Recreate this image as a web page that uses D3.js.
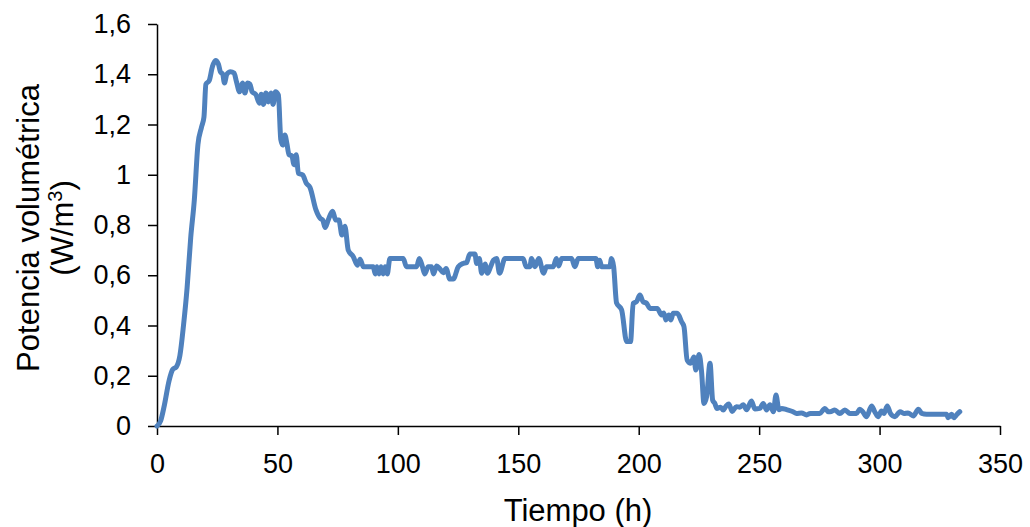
<!DOCTYPE html>
<html>
<head>
<meta charset="utf-8">
<script src="https://cdn.jsdelivr.net/npm/d3@7"></script>
<style>
  html, body { margin: 0; padding: 0; background: #fff; }
  svg { display: block; }
  text { font-family: "Liberation Sans", Arial, sans-serif; fill: #000; }
</style>
</head>
<body>
<svg id="chart" width="1030" height="527"></svg>
<script>
// Tiempo (h)
const tiempo = [
  0, 1.5, 3, 5, 6.5, 8, 9.5, 11, 12.5, 14, 15.5, 17, 18.5, 19.5, 20.3, 21.7, 23, 24.3, 25.5, 26.3,
  27.3, 28, 29, 30.5, 32, 33, 34.3, 35.5, 36.5, 37.6, 38.6, 39.5, 41, 42.5, 43.3, 44.2, 45.2, 46.2, 47.3, 48.2,
  49.2, 50.4, 51.4, 52.2, 53.1, 54, 54.8, 56, 56.9, 57.8, 58.7, 60.5, 62, 63.5, 66, 67.7, 68.8, 69.8, 71.1, 72.9,
  74.2, 75.5, 76.8, 78, 79.4, 81.5, 83.2, 84.3, 85.7, 89.8, 90.6, 91.3, 92.2, 93, 93.9, 94.7, 95.6, 96.7, 102.2, 103.6,
  107.8, 108.9, 110.2, 111.2, 112.6, 114, 114.8, 116.1, 117.5, 118.9, 120, 121.6, 123, 125.1, 127.1, 128.5, 129.9, 132, 132.7, 133.8,
  134.8, 136.2, 137.2, 138.5, 139.7, 141, 142.2, 144.5, 152, 153.3, 154.8, 155.5, 156.9, 158.5, 160.5, 161.7, 164.5, 165.8, 166.8, 168,
  172.1, 173.5, 174.9, 182.2, 183, 183.8, 184.6, 188, 188.7, 189.6, 190.8, 192.9, 195, 196.6, 197.7, 199.1, 200.5, 201.8, 203.3, 204.7,
  207.7, 209.5, 210.4, 211.3, 212.5, 213.4, 214.3, 216, 217.8, 218.8, 220.1, 221.6, 222.9, 223.7, 225.1, 226.1, 227.1, 228.2, 229.6, 230.7,
  231.6, 232.5, 234, 235.1, 236.3, 237.4, 238.8, 240.5, 242, 243.4, 244.8, 246.8, 248.2, 250.3, 251.7, 253.1, 254.5, 255.9, 257, 258.2,
  259.4, 261.4, 264.1, 265.5, 267.6, 269.7, 271.2, 275.2, 277.3, 278.7, 280, 281.4, 283.5, 285.6, 287.7, 290.4, 291.8, 293, 294.6, 296.7,
  298, 299.4, 300.8, 301.8, 303.2, 304.5, 306.4, 308.5, 310.1, 311.8, 314, 316.1, 317.5, 319.5, 327.8, 328.5, 329.9, 330.8, 332, 333.3
];
// Potencia volumétrica (W/m3)
const potencia = [
  0, 0.02, 0.08, 0.18, 0.225, 0.235, 0.28, 0.40, 0.55, 0.75, 0.90, 1.12, 1.19, 1.23, 1.36, 1.375, 1.43, 1.455, 1.44, 1.41,
  1.40, 1.365, 1.40, 1.41, 1.405, 1.37, 1.33, 1.365, 1.325, 1.365, 1.36, 1.33, 1.32, 1.285, 1.32, 1.28, 1.325, 1.29, 1.325, 1.28,
  1.33, 1.317, 1.14, 1.118, 1.158, 1.12, 1.08, 1.075, 1.04, 1.08, 1.006, 0.999, 0.966, 0.95, 0.86, 0.827, 0.82, 0.79, 0.82, 0.855,
  0.82, 0.82, 0.76, 0.795, 0.70, 0.674, 0.64, 0.664, 0.634, 0.634, 0.605, 0.634, 0.605, 0.634, 0.605, 0.634, 0.605, 0.667, 0.667, 0.634,
  0.634, 0.667, 0.634, 0.605, 0.634, 0.634, 0.605, 0.637, 0.625, 0.61, 0.627, 0.585, 0.585, 0.634, 0.647, 0.65, 0.685, 0.685, 0.647, 0.667,
  0.608, 0.645, 0.608, 0.634, 0.66, 0.667, 0.608, 0.667, 0.667, 0.634, 0.634, 0.667, 0.634, 0.667, 0.608, 0.634, 0.634, 0.667, 0.637, 0.667,
  0.667, 0.634, 0.667, 0.667, 0.634, 0.66, 0.634, 0.634, 0.667, 0.634, 0.49, 0.462, 0.336, 0.336, 0.488, 0.495, 0.521, 0.495, 0.488, 0.468,
  0.468, 0.442, 0.45, 0.422, 0.442, 0.422, 0.449, 0.449, 0.415, 0.395, 0.263, 0.25, 0.275, 0.223, 0.285, 0.216, 0.09, 0.117, 0.25, 0.103,
  0.09, 0.07, 0.075, 0.064, 0.08, 0.088, 0.058, 0.077, 0.075, 0.085, 0.065, 0.10, 0.068, 0.07, 0.09, 0.064, 0.085, 0.057, 0.123, 0.065,
  0.07, 0.065, 0.057, 0.05, 0.052, 0.044, 0.05, 0.05, 0.07, 0.057, 0.058, 0.064, 0.05, 0.064, 0.05, 0.05, 0.067, 0.057, 0.037, 0.08,
  0.057, 0.037, 0.06, 0.05, 0.08, 0.05, 0.037, 0.057, 0.05, 0.052, 0.04, 0.067, 0.05, 0.047, 0.047, 0.033, 0.047, 0.033, 0.045, 0.057
];
const xTicks = [0, 50, 100, 150, 200, 250, 300, 350];
const yTicks = [0, 0.2, 0.4, 0.6, 0.8, 1, 1.2, 1.4, 1.6];
const xTitle = "Tiempo (h)";
const yTitle1 = "Potencia volumétrica";
const yTitle2 = "(W/m";
const yTitleSup = "3";

const svg = d3.select("#chart");
const x = d3.scaleLinear().domain([0, 350]).range([157, 1000]);
const y = d3.scaleLinear().domain([0, 1.6]).range([426, 24]);
const fmt = d => (Math.round(d) === d ? String(d) : d.toFixed(1).replace(".", ","));

// X axis
const gx = svg.append("g").attr("transform", "translate(0,426)")
  .call(d3.axisBottom(x).tickValues(xTicks).tickFormat(fmt).tickSize(9).tickSizeOuter(0).tickPadding(19));
// Y axis
const gy = svg.append("g").attr("transform", "translate(157,0)")
  .call(d3.axisLeft(y).tickValues(yTicks).tickFormat(fmt).tickSize(9).tickSizeOuter(0).tickPadding(17));

[gx, gy].forEach(g => {
  g.select(".domain").attr("stroke", "#000").attr("stroke-width", 1.5);
  g.selectAll(".tick line").attr("stroke", "#000").attr("stroke-width", 1.5);
  g.selectAll(".tick text").style("font-size", "27px").attr("fill", "#000")
    .style("font-family", "'Liberation Sans', Arial, sans-serif");
});

// Line
const data = tiempo.map((t, i) => [t, potencia[i]]);
const line = d3.line().x(d => x(d[0])).y(d => y(d[1])).curve(d3.curveMonotoneX);
svg.append("path").datum(data)
  .attr("d", line)
  .attr("fill", "none")
  .attr("stroke", "#4F81BD")
  .attr("stroke-width", 5)
  .attr("stroke-linejoin", "round")
  .attr("stroke-linecap", "round");

// Axis titles
svg.append("text")
  .attr("x", 578).attr("y", 521)
  .attr("text-anchor", "middle")
  .style("font-size", "31px")
  .text(xTitle);

const yt = svg.append("text")
  .attr("transform", "translate(39,228) rotate(-90)")
  .attr("text-anchor", "middle")
  .style("font-size", "31px");
yt.append("tspan").attr("x", 0).attr("dy", 0).text(yTitle1);
yt.append("tspan").attr("x", 0).attr("dy", 34).text(yTitle2);
yt.append("tspan").attr("dy", -11).style("font-size", "20px").text(yTitleSup);
yt.append("tspan").attr("dy", 11).text(")");
</script>
</body>
</html>
